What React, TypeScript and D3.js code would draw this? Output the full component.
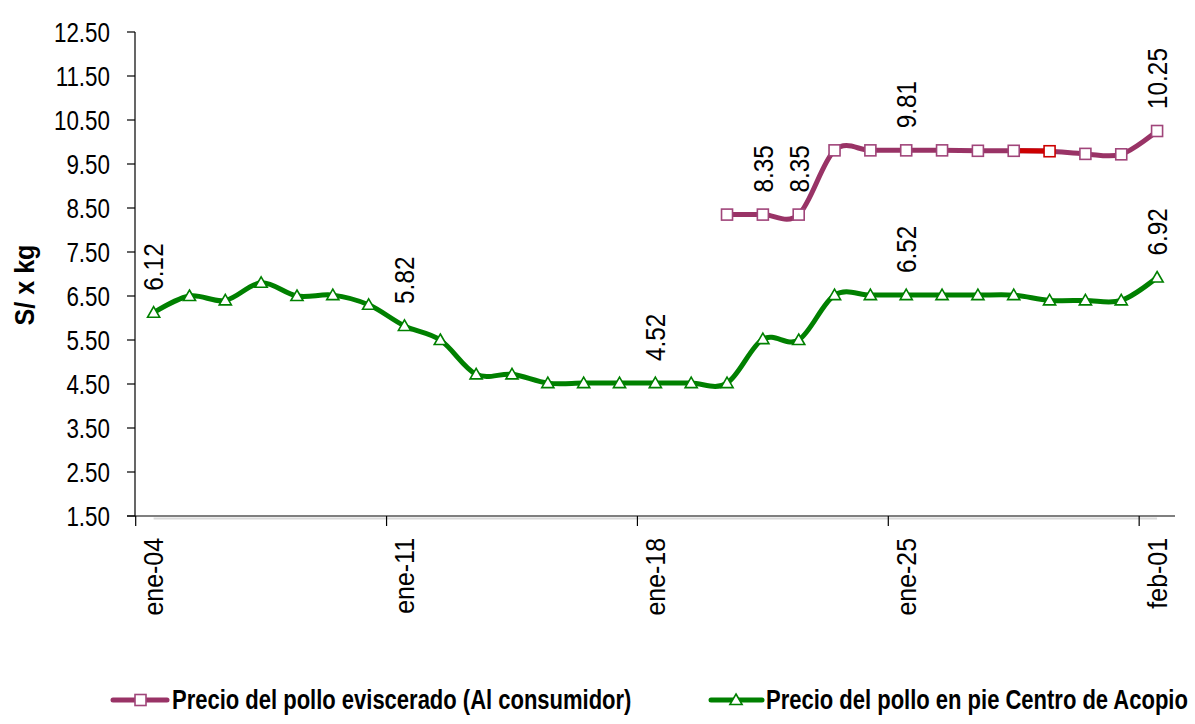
import React from "react";
import * as d3 from "d3";

// days on the x axis (one point per day)
const days = [
  "ene-04", "ene-05", "ene-06", "ene-07", "ene-08", "ene-09", "ene-10",
  "ene-11", "ene-12", "ene-13", "ene-14", "ene-15", "ene-16", "ene-17",
  "ene-18", "ene-19", "ene-20", "ene-21", "ene-22", "ene-23", "ene-24",
  "ene-25", "ene-26", "ene-27", "ene-28", "ene-29", "ene-30", "ene-31",
  "feb-01",
];
const tickDays = ["ene-04", "ene-11", "ene-18", "ene-25", "feb-01"];

// Precio del pollo eviscerado (Al consumidor)
const eviscerado: (number | null)[] = [
  null, null, null, null, null, null, null, null, null, null, null, null, null, null, null, null,
  8.35, 8.35, 8.35, 9.81, 9.81, 9.81, 9.81, 9.8, 9.8, 9.79, 9.73, 9.72, 10.25,
];
// Precio del pollo en pie Centro de Acopio
const enPie: number[] = [
  6.12, 6.5, 6.4, 6.8, 6.5, 6.52, 6.3, 5.82, 5.5, 4.72, 4.72, 4.52, 4.52, 4.52,
  4.52, 4.52, 4.52, 5.52, 5.5, 6.52, 6.52, 6.52, 6.52, 6.52, 6.52, 6.4, 6.4, 6.4, 6.92,
];
const evisceradoLabels = ["ene-21", "ene-22", "ene-25", "feb-01"];
const enPieLabels = ["ene-04", "ene-11", "ene-18", "ene-25", "feb-01"];
const highlightDay = "ene-29"; // punto resaltado en rojo

const yTicks = [1.5, 2.5, 3.5, 4.5, 5.5, 6.5, 7.5, 8.5, 9.5, 10.5, 11.5, 12.5];

const PURPLE = "#993366";
const GREEN = "#008000";
const RED = "#cc0000";
const FONT = "'Liberation Sans', Arial, sans-serif";

export default function App() {
  const x = d3.scaleBand<string>().domain(days).range([135.7, 1175]);
  const bw = x.bandwidth();
  const cx = (d: string) => (x(d) as number) + bw / 2;
  const y = d3.scaleLinear().domain([1.5, 12.5]).range([516, 32]);

  const line = d3
    .line<number | null>()
    .defined((v) => v != null)
    .x((_, i) => cx(days[i]))
    .y((v) => y(v as number))
    .curve(d3.curveCardinal.tension(0));

  const hi = days.indexOf(highlightDay);
  const tri = d3.symbol().type(d3.symbolTriangle).size(64)() as string;

  return (
    <div style={{ position: "absolute", left: 0, top: 0 }}>
      <svg width={1195} height={724} style={{ display: "block", background: "#fff" }} fontFamily={FONT}>
        <defs>
          <clipPath id="hiClip">
            <rect x={cx(days[hi - 1])} y={0} width={cx(days[hi]) - cx(days[hi - 1])} height={724} />
          </clipPath>
        </defs>

        {/* y axis */}
        <line x1={135} x2={135} y1={y(12.5)} y2={y(1.5)} stroke="#000" strokeWidth={1.2} />
        {yTicks.map((t) => (
          <g key={t}>
            <line x1={127} x2={135} y1={y(t)} y2={y(t)} stroke="#000" strokeWidth={1.2} />
            <text transform={`translate(110,${y(t)}) scale(0.8,1)`} textAnchor="end" dy="0.35em" fontSize={28} fill="#000">
              {t.toFixed(2)}
            </text>
          </g>
        ))}
        <text transform={`translate(25,285) rotate(-90) scale(0.93,1)`} textAnchor="middle" dy="0.35em" fontSize={27} fontWeight="bold">
          S/ x kg
        </text>

        {/* x axis */}
        <line x1={cx(days[0])} x2={cx(days[days.length - 1])} y1={y(1.5) + 2.5} y2={y(1.5) + 2.5} stroke="#d9d9d9" strokeWidth={2} />
        <line x1={127} x2={1175} y1={y(1.5)} y2={y(1.5)} stroke="#000" strokeWidth={1.2} />
        {tickDays.map((d) => (
          <g key={d}>
            <line x1={x(d)} x2={x(d)} y1={y(1.5)} y2={y(1.5) + 10} stroke="#000" strokeWidth={1.2} />
            <text transform={`translate(${cx(d)},538) rotate(-90) scale(0.89,1)`} textAnchor="end" dy="0.35em" fontSize={28}>
              {d}
            </text>
          </g>
        ))}

        {/* series lines */}
        <path d={line(enPie) as string} fill="none" stroke={GREEN} strokeWidth={5} strokeLinejoin="round" strokeLinecap="round" />
        <path d={line(eviscerado) as string} fill="none" stroke={PURPLE} strokeWidth={5} strokeLinejoin="round" strokeLinecap="round" />
        <path d={line(eviscerado) as string} fill="none" stroke={RED} strokeWidth={5} clipPath="url(#hiClip)" />

        {/* markers */}
        {enPie.map((v, i) => (
          <path key={"g" + i} d={tri} transform={`translate(${cx(days[i])},${y(v) + 1})`} fill="#fff" stroke={GREEN} strokeWidth={1.6} />
        ))}
        {eviscerado.map((v, i) =>
          v == null ? null : (
            <rect
              key={"p" + i}
              x={cx(days[i]) - 5.5}
              y={y(v) - 5.5}
              width={11}
              height={11}
              fill="#fff"
              stroke={i === hi ? RED : "#a0457a"}
              strokeWidth={1.6}
            />
          )
        )}

        {/* data labels */}
        {enPieLabels.map((d) => {
          const v = enPie[days.indexOf(d)];
          return (
            <text key={"lg" + d} transform={`translate(${cx(d)},${y(v) - 22}) rotate(-90) scale(0.87,1)`} dy="0.35em" fontSize={28}>
              {v.toFixed(2)}
            </text>
          );
        })}
        {evisceradoLabels.map((d) => {
          const v = eviscerado[days.indexOf(d)] as number;
          return (
            <text key={"lp" + d} transform={`translate(${cx(d)},${y(v) - 22}) rotate(-90) scale(0.87,1)`} dy="0.35em" fontSize={28}>
              {v.toFixed(2)}
            </text>
          );
        })}

        {/* legend */}
        <g>
          <line x1={113} x2={167} y1={700} y2={700} stroke={PURPLE} strokeWidth={5} strokeLinecap="round" />
          <rect x={135} y={694.5} width={11} height={11} fill="#fff" stroke="#a0457a" strokeWidth={1.6} />
          <text transform="translate(172,709) scale(0.815,1)" fontSize={27} fontWeight="bold">
            Precio del pollo eviscerado (Al consumidor)
          </text>
          <line x1={711} x2={762} y1={700} y2={700} stroke={GREEN} strokeWidth={5} strokeLinecap="round" />
          <path d={tri} transform="translate(736,701)" fill="#fff" stroke={GREEN} strokeWidth={1.6} />
          <text transform="translate(766,709) scale(0.815,1)" fontSize={27} fontWeight="bold">
            Precio del pollo en pie Centro de Acopio
          </text>
        </g>
      </svg>
    </div>
  );
}
